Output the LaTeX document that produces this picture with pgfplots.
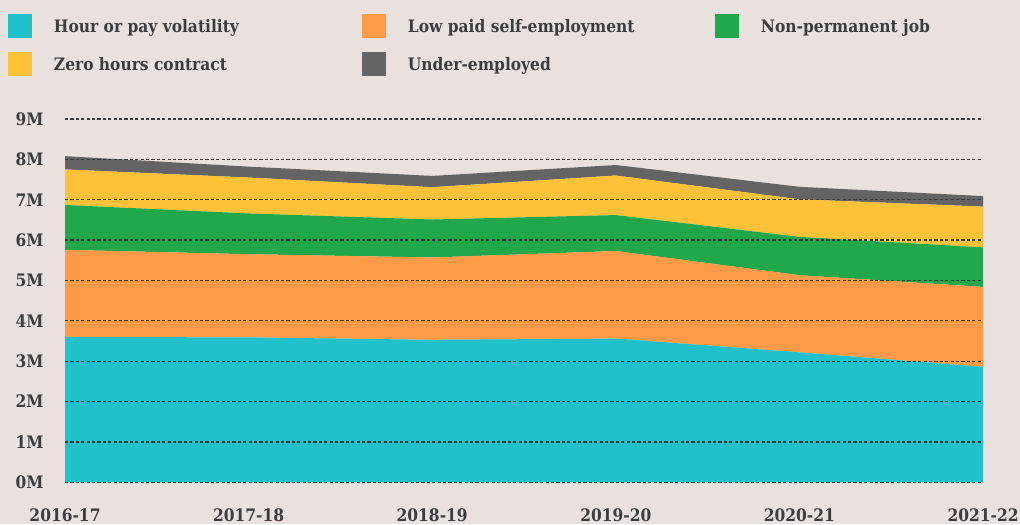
\documentclass[border=0pt]{standalone}
\usepackage{pgfplots}
\pgfplotsset{compat=1.18}
\usepackage{fontspec}
\setmainfont{DejaVu Serif Condensed}[BoldFont=* Bold]
\definecolor{cteal}{HTML}{20C1CA}
\definecolor{corange}{HTML}{FF9B48}
\definecolor{cgreen}{HTML}{21A84A}
\definecolor{cyellow}{HTML}{FEC238}
\definecolor{cgray}{HTML}{646464}
\definecolor{cbg}{HTML}{E8E1DE}
\definecolor{ctext}{HTML}{3D3D3D}
\definecolor{cgrid}{HTML}{3A3A3A}
\begin{document}
\begin{tikzpicture}
\useasboundingbox (0,0) rectangle (510pt,262pt);
\fill[cbg] (0,0) rectangle (510pt,262pt);
\begin{axis}[
  at={(32.5pt,20.85pt)}, anchor=south west,
  scale only axis, width=459pt, height=181.65pt,
  xmin=0, xmax=5, ymin=0, ymax=9,
  stack plots=y,
  axis on top,
  axis line style={draw=none},
  tick style={draw=none},
  major tick length=0pt,
  xtick={0,1,2,3,4,5},
  xticklabels={2016-17,2017-18,2018-19,2019-20,2020-21,2021-22},
  ytick={0,1,2,3,4,5,6,7,8,9},
  yticklabels={0M,1M,2M,3M,4M,5M,6M,7M,8M,9M},
  ymajorgrids,
  grid style={cgrid, line width=0.65pt, dash pattern=on 1.6pt off 1.1pt},
  ticklabel style={font=\bfseries\fontsize{8.6}{10}\selectfont, text=ctext, inner sep=0pt},
  xticklabel style={anchor=base, yshift=-19.8pt},
  yticklabel style={anchor=east, xshift=-10.5pt},
  legend columns=3,
  legend cell align=left,
  legend style={at={(axis description cs:-0.0621,1.2891)}, anchor=north west,
    draw=none, fill=none, inner sep=0pt, outer sep=0pt, row sep=7pt,
    nodes={inner sep=0pt, text=ctext, font=\bfseries\fontsize{8.6}{10}\selectfont},
    /tikz/every odd column/.append style={column sep=11pt}},
  legend image code/.code={\fill[#1] (0pt,-5.2pt) rectangle (12pt,6.8pt);},
]
\addplot[fill=cteal, draw=none] coordinates {(0,3.60) (1,3.59) (2,3.53) (3,3.56) (4,3.22) (5,2.86)} \closedcycle;
\addlegendentry{\makebox[154pt][l]{Hour or pay volatility}}
\addplot[fill=corange, draw=none] coordinates {(0,2.16) (1,2.06) (2,2.04) (3,2.17) (4,1.91) (5,1.98)} \closedcycle;
\addlegendentry{\makebox[153.5pt][l]{Low paid self-employment}}
\addplot[fill=cgreen, draw=none] coordinates {(0,1.11) (1,1.01) (2,0.94) (3,0.89) (4,0.95) (5,0.98)} \closedcycle;
\addlegendentry{Non-permanent job}
\addplot[fill=cyellow, draw=none] coordinates {(0,0.88) (1,0.89) (2,0.80) (3,0.98) (4,0.93) (5,1.01)} \closedcycle;
\addlegendentry{\makebox[154pt][l]{Zero hours contract}}
\addplot[fill=cgray, draw=none] coordinates {(0,0.33) (1,0.27) (2,0.28) (3,0.26) (4,0.31) (5,0.26)} \closedcycle;
\addlegendentry{\makebox[153.5pt][l]{Under-employed}}
\end{axis}
\end{tikzpicture}
\end{document}
